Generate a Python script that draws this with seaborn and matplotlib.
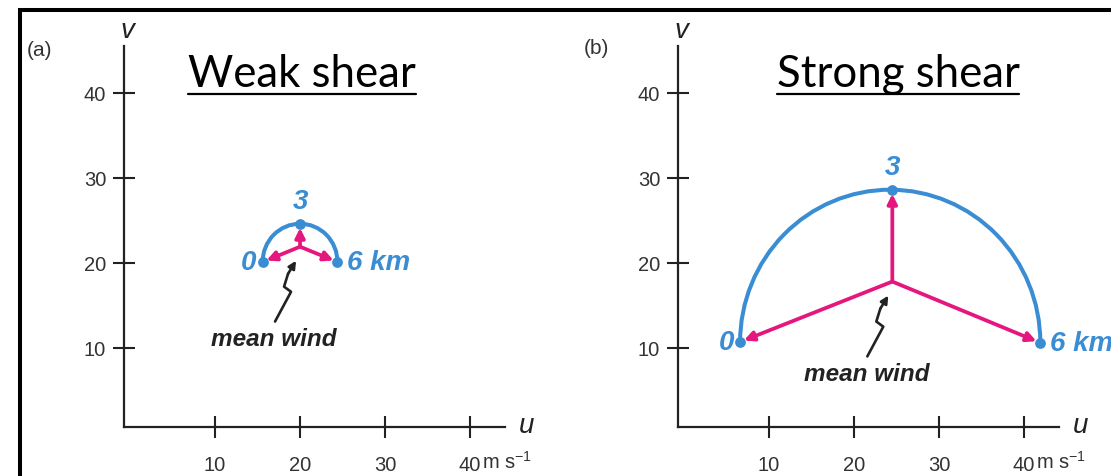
import numpy as np
import pandas as pd
import seaborn as sns
import matplotlib.pyplot as plt
from matplotlib.patches import Arc, Rectangle
from matplotlib.lines import Line2D

sns.set_style('white')
plt.rcParams['font.family'] = ['Liberation Sans', 'DejaVu Sans']
plt.rcParams['mathtext.default'] = 'regular'

# hodograph points (u, v in m/s) at 0, 3 and 6 km
heights = ['0', '3', '6 km']
weak_u = [15.6, 20.0, 24.4]
weak_v = [20.1, 24.6, 20.1]
weak_mean = [20.0, 21.9]
strong_u = [6.6, 24.5, 41.9]
strong_v = [10.7, 28.6, 10.6]
strong_mean = [24.5, 17.8]
ticks = [10, 20, 30, 40]
tick_labels = ['10', '20', '30', '40']
titles = ['Weak shear', 'Strong shear']
tags = ['(a)', '(b)']

blue = '#3a8dd3'
pink = '#e5177e'
ink = '#222222'
W, H = 1111, 477

fig = plt.figure(figsize=(W / 100, H / 100), dpi=100)
fig.patch.set_facecolor('white')

# black frame (runs off the right and bottom edges)
fig.patches.append(Rectangle((19.5 / W, -0.1), 1.1, 1 - 10.5 / H + 0.1,
                             transform=fig.transFigure, fill=False,
                             lw=2.9, ec='black'))

# little lightning-shaped pointer, offsets from the mean wind point (data units)
squiggle = [(-2.94, -8.8), (-1.06, -5.3), (-1.88, -4.7), (-1.41, -3.18)]
squiggle_tip = (-0.47, -1.65)

label_pos = {'0': ((-6, 0), 'right', 'center'),
             '3': ((0, 10), 'center', 'bottom'),
             '6 km': ((10, 0), 'left', 'center')}

panels = [(124, weak_u, weak_v, weak_mean, 302, (40, 50)),
          (678, strong_u, strong_v, strong_mean, 898, (596, 49))]

title_texts = []
for i, (left, u, v, mean, tx, tag_xy) in enumerate(panels):
    ax = fig.add_axes([left / W, (H - 428) / H, 381 / W, 381 / H])
    ax.set_facecolor('none')
    ax.set_xlim(-0.7, 44.1)
    ax.set_ylim(0.7, 45.5)
    sns.despine(ax=ax)
    for s in ['left', 'bottom']:
        ax.spines[s].set_linewidth(1.6)
        ax.spines[s].set_color(ink)
    ax.set_xticks(ticks)
    ax.set_xticklabels(tick_labels)
    ax.set_yticks(ticks)
    ax.set_yticklabels(tick_labels)
    ax.tick_params(bottom=True, left=True, direction='inout', length=15.8,
                   width=1.5, color=ink, labelsize=14.5, labelcolor='#333333')
    ax.tick_params(axis='x', pad=12.5)
    ax.tick_params(axis='y', pad=5)

    # semicircular hodograph
    cu = (u[0] + u[2]) / 2
    cv = (v[0] + v[2]) / 2
    ax.add_patch(Arc((cu, cv), u[2] - u[0], 2 * (v[1] - cv), theta1=0, theta2=180,
                     color=blue, lw=2.9, zorder=2))
    sns.scatterplot(x=u, y=v, ax=ax, color=blue, s=60, linewidth=0, zorder=4)

    # shear vectors from the mean wind
    for ui, vi in zip(u, v):
        ax.annotate('', xy=(ui, vi), xytext=(mean[0], mean[1]),
                    arrowprops=dict(arrowstyle='-|>', color=pink, lw=2.7,
                                    mutation_scale=14, shrinkA=0, shrinkB=3),
                    zorder=3)

    for lab, ui, vi in zip(heights, u, v):
        off, ha, va = label_pos[lab]
        ax.annotate(lab, xy=(ui, vi), xytext=off, textcoords='offset pixels',
                    ha=ha, va=va, color=blue, fontsize=20, fontweight='bold',
                    fontstyle='italic', annotation_clip=False)

    # mean wind label and pointer
    ax.annotate('mean wind', xy=(mean[0], mean[1]), xytext=(-26, -92),
                textcoords='offset pixels', ha='center', va='center',
                fontsize=17.5, fontweight='bold', fontstyle='italic', color=ink)
    xs = [mean[0] + d[0] for d in squiggle]
    ys = [mean[1] + d[1] for d in squiggle]
    ax.plot(xs, ys, color=ink, lw=1.9)
    ax.annotate('', xy=(mean[0] + squiggle_tip[0], mean[1] + squiggle_tip[1]),
                xytext=(xs[-1], ys[-1]),
                arrowprops=dict(arrowstyle='-|>', color=ink, lw=1.9,
                                mutation_scale=11, shrinkA=0, shrinkB=0))

    # axis names and unit
    ax.annotate('v', xy=(0, 1), xycoords='axes fraction', xytext=(3, 16),
                textcoords='offset pixels', ha='center', va='center',
                fontsize=20, fontstyle='italic', color=ink)
    ax.annotate('u', xy=(1, 0), xycoords='axes fraction', xytext=(22, 2),
                textcoords='offset pixels', ha='center', va='center',
                fontsize=20, fontstyle='italic', color=ink)
    ax.annotate('m s$^{-1}$', xy=(40, 0), xycoords=('data', 'axes fraction'),
                xytext=(12, -41), textcoords='offset pixels', ha='left',
                va='baseline', fontsize=14.5, color='#333333',
                annotation_clip=False)

    fig.text(tag_xy[0] / W, 1 - tag_xy[1] / H, tags[i], ha='center', va='center',
             fontsize=15, color='#333333')
    t = fig.text(tx / W, 1 - 87 / H, titles[i], ha='center', va='baseline',
                 fontsize=31.5, family=['Lato', 'DejaVu Sans'], color='black')
    title_texts.append(t)

# underline the titles
fig.canvas.draw()
for t in title_texts:
    bb = t.get_window_extent()
    fig.add_artist(Line2D([bb.x0 / W, bb.x1 / W], [1 - 95 / H] * 2,
                          transform=fig.transFigure, color='black', lw=1.6))

fig.savefig('out.png', dpi=100)
